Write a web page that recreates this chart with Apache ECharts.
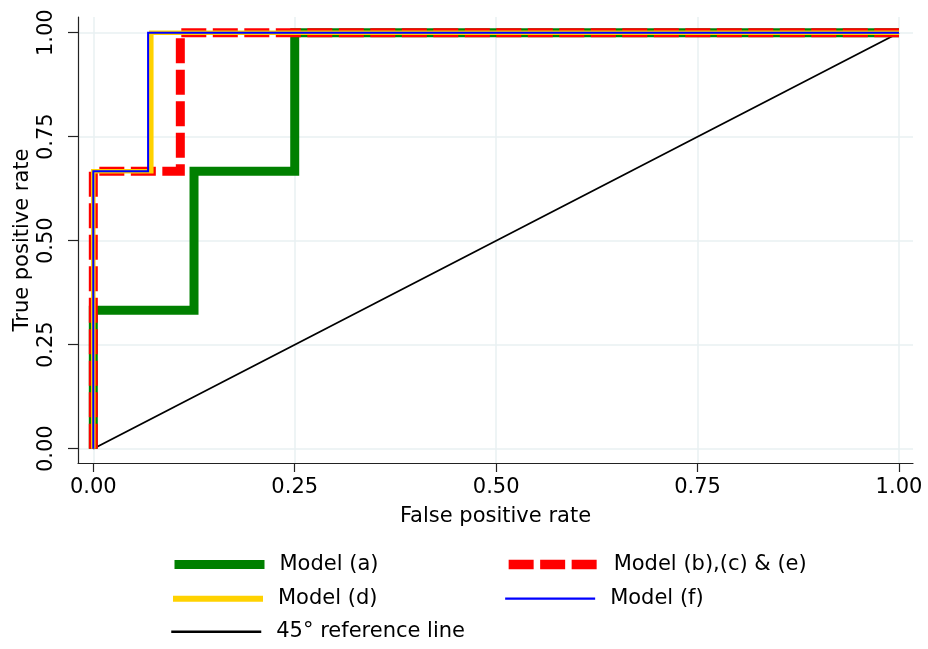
<!DOCTYPE html>
<html>
<head>
<meta charset="utf-8">
<script src="https://cdn.jsdelivr.net/npm/echarts@6/dist/echarts.min.js"></script>
<style>
  html, body { margin: 0; padding: 0; background: #fff; }
  #chart { width: 928px; height: 649px; }
</style>
</head>
<body>
<div id="chart"></div>
<script>
// ROC curves: false positive rate (x) against true positive rate (y)
const fprA = [0, 0, 0.125, 0.125, 0.25, 0.25, 1];
const tprA = [0, 0.333, 0.333, 0.667, 0.667, 1, 1];

const fprBCE = [0, 0, 0.108, 0.108, 1];
const tprBCE = [0, 0.667, 0.667, 1, 1];

const fprD = [0, 0, 0.072, 0.072, 1];
const tprD = [0, 0.667, 0.667, 1, 1];

const fprF = [0, 0, 0.068, 0.068, 1];
const tprF = [0, 0.667, 0.667, 1, 1];

const fprRef = [0, 1];
const tprRef = [0, 1];

const tickValues = [0, 0.25, 0.5, 0.75, 1];

const names = {
  a: 'Model (a)',
  bce: 'Model (b),(c) & (e)',
  d: 'Model (d)',
  f: 'Model (f)',
  ref: '45\u00b0 reference line'
};

const FONT = '"DejaVu Sans", Verdana, sans-serif';
const FS = 21;
const pairs = (xs, ys) => xs.map((x, i) => [x, ys[i]]);
const fmt = v => v.toFixed(2);

const gridColor = '#e8f0f2';
const axisColor = '#222';
const DASH = [25, 6.5];

function lineSeries(name, xs, ys, color, width, dash, z) {
  return {
    name: name,
    type: 'line',
    data: pairs(xs, ys),
    showSymbol: false,
    symbol: 'none',
    z: z,
    silent: true,
    lineStyle: { color: color, width: width, type: dash || 'solid', join: 'miter', cap: 'butt' },
    itemStyle: { color: color }
  };
}

// one legend block per entry so the two columns line up
function legendAt(name, left, centerY, width, dash) {
  return {
    data: [name],
    left: left,
    top: centerY - 12,
    padding: 0,
    itemWidth: 90,
    itemHeight: 14,
    selectedMode: false,
    itemStyle: { color: 'rgba(0,0,0,0)', borderWidth: 0, opacity: 0 },
    lineStyle: { width: width, type: dash || 'solid' },
    textStyle: { fontFamily: FONT, fontSize: FS, color: '#000', padding: [0, 0, 0, 10], lineHeight: 24 }
  };
}

const chart = echarts.init(document.getElementById('chart'), null, { renderer: 'canvas' });

chart.setOption({
  animation: false,
  backgroundColor: '#fff',
  textStyle: { fontFamily: FONT },
  grid: { left: 78, right: 15, top: 17, bottom: 186, containLabel: false },
  xAxis: {
    type: 'value',
    min: -0.019,
    max: 1.0174,
    name: 'False positive rate',
    nameLocation: 'middle',
    nameGap: 43,
    nameMoveOverlap: false,
    nameTextStyle: { fontFamily: FONT, fontSize: FS, color: '#000' },
    axisLine: { show: true, onZero: false, lineStyle: { color: axisColor, width: 1.2 } },
    axisTick: { show: true, length: 9, customValues: tickValues, lineStyle: { color: axisColor, width: 1.2 } },
    axisLabel: { customValues: tickValues, formatter: fmt, fontSize: FS, color: '#000', margin: 14, fontFamily: FONT },
    splitLine: { show: true, lineStyle: { color: gridColor, width: 1.5 } }
  },
  yAxis: {
    type: 'value',
    min: -0.0344,
    max: 1.0377,
    name: 'True positive rate',
    nameLocation: 'middle',
    nameRotate: 90,
    nameGap: 45,
    nameMoveOverlap: false,
    nameTextStyle: { fontFamily: FONT, fontSize: FS, color: '#000' },
    axisLine: { show: true, onZero: false, lineStyle: { color: axisColor, width: 1.2 } },
    axisTick: { show: true, length: 10, customValues: tickValues, lineStyle: { color: axisColor, width: 1.2 } },
    axisLabel: { customValues: tickValues, formatter: fmt, fontSize: FS, color: '#000', rotate: 90, margin: 21, fontFamily: FONT },
    splitLine: { show: true, lineStyle: { color: gridColor, width: 1.5 } }
  },
  legend: [
    legendAt(names.a, 170, 564.5, 9),
    legendAt(names.bce, 504, 564.5, 9.3, DASH),
    legendAt(names.d, 170, 598.7, 6),
    legendAt(names.f, 504, 598.7, 2.3),
    legendAt(names.ref, 170, 631.7, 2.5)
  ],
  series: [
    lineSeries(names.ref, fprRef, tprRef, '#000', 1.8, null, 2),
    lineSeries(names.a, fprA, tprA, '#008000', 9, null, 3),
    lineSeries(names.bce, fprBCE, tprBCE, '#ff0000', 9, DASH, 4),
    lineSeries(names.d, fprD, tprD, '#ffd200', 4.5, null, 5),
    lineSeries(names.f, fprF, tprF, '#0000ff', 2, null, 6)
  ]
});
</script>
</body>
</html>
